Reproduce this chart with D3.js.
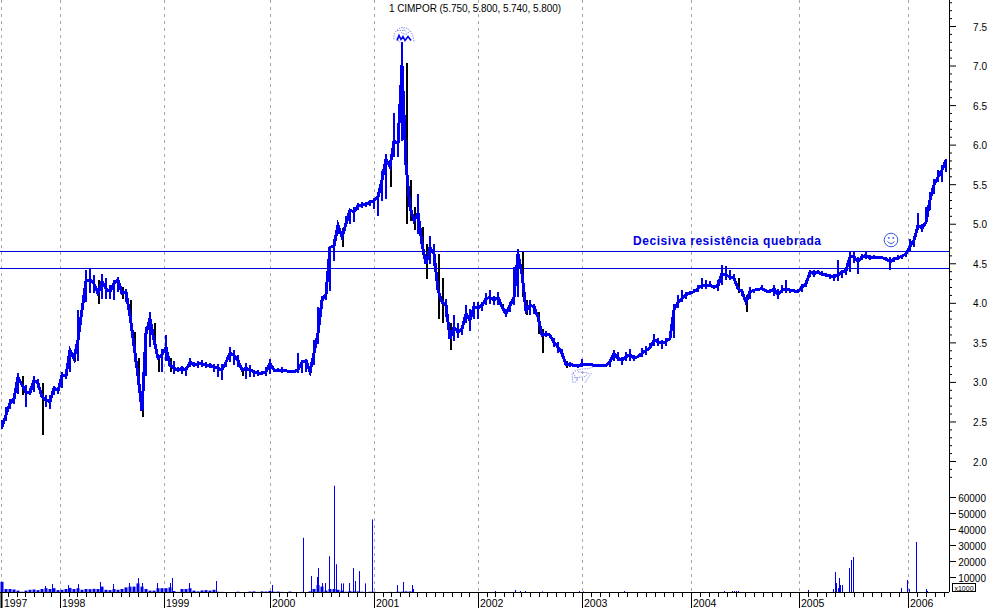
<!DOCTYPE html>
<html><head><meta charset="utf-8">
<script src="https://cdnjs.cloudflare.com/ajax/libs/d3/7.8.5/d3.min.js"></script>
<style>html,body{margin:0;padding:0;background:#fff}svg{display:block}text{font-family:"Liberation Sans",Arial,sans-serif}</style>
</head><body><div id="chart"></div>
<script>
const title = "1 CIMPOR (5.750, 5.800, 5.740, 5.800)";
const note = "Decisiva resistência quebrada";
const years = [1997,1998,1999,2000,2001,2002,2003,2004,2005,2006];
const yearSessions = [0,14.5,40.5,67,93,119,145,172.25,199.25,226.5];
const priceMajor = [2,2.5,3,3.5,4,4.5,5,5.5,6,6.5,7,7.5];
const volumeTicks = [10000,20000,30000,40000,50000,60000];
const resistance = [4.65,4.435];

const closes = [
2.43,2.58,2.73,2.79,3.06,2.96,2.87,2.86,3.02,2.98,
2.81,2.77,2.75,2.92,2.89,3.08,3.08,3.40,3.30,3.53,
3.91,4.27,4.29,4.24,4.12,4.27,4.18,4.14,4.24,4.29,
4.12,4.14,3.84,3.46,3.08,2.64,3.61,3.80,3.53,3.30,
3.34,3.44,3.21,3.17,3.15,3.17,3.15,3.25,3.21,3.23,
3.23,3.21,3.21,3.19,3.17,3.15,3.25,3.36,3.34,3.27,
3.15,3.17,3.15,3.13,3.11,3.11,3.13,3.23,3.15,3.15,
3.15,3.14,3.13,3.13,3.15,3.25,3.27,3.13,3.36,3.62,
4.03,4.11,4.70,4.72,4.98,4.83,5.00,5.17,5.15,5.23,
5.24,5.25,5.27,5.29,5.34,5.55,5.82,5.72,6.04,6.02,
7.00,5.75,5.21,5.04,5.13,4.75,4.49,4.70,4.62,4.16,
4.01,3.97,3.55,3.69,3.63,3.67,3.86,3.78,3.95,3.93,
3.97,4.05,4.07,4.03,4.07,3.95,3.86,3.97,4.07,4.62,
4.37,3.90,3.97,3.95,3.82,3.59,3.61,3.59,3.50,3.44,
3.36,3.22,3.22,3.21,3.20,3.22,3.22,3.22,3.21,3.21,
3.21,3.21,3.25,3.36,3.30,3.27,3.32,3.34,3.30,3.32,
3.36,3.40,3.43,3.53,3.51,3.49,3.51,3.55,3.91,4.01,
4.05,4.10,4.13,4.14,4.18,4.22,4.21,4.22,4.20,4.22,
4.37,4.35,4.33,4.31,4.18,4.14,4.01,4.14,4.16,4.17,
4.18,4.15,4.14,4.18,4.10,4.16,4.18,4.16,4.15,4.14,
4.20,4.24,4.39,4.37,4.39,4.36,4.35,4.34,4.33,4.35,
4.39,4.41,4.58,4.58,4.52,4.58,4.60,4.57,4.58,4.57,
4.57,4.56,4.52,4.55,4.57,4.59,4.62,4.71,4.79,4.98,
4.94,5.02,5.30,5.49,5.59,5.68,5.80];
const lows = [
2.40,2.50,2.66,2.72,2.85,2.83,2.68,2.83,2.87,2.92,
2.33,2.68,2.66,2.83,2.85,2.92,3.04,3.13,3.25,3.27,
3.84,4.01,4.12,4.12,3.99,4.05,4.05,4.05,4.03,4.14,
4.05,4.01,3.78,3.25,3.00,2.56,3.08,3.44,3.42,3.13,
3.13,3.27,3.13,3.10,3.13,3.10,3.08,3.19,3.19,3.18,
3.19,3.17,3.18,3.13,3.06,3.02,3.19,3.25,3.21,3.19,
3.08,3.04,3.06,3.06,3.08,3.09,3.08,3.10,3.13,3.13,
3.11,3.12,3.11,3.11,3.11,3.11,3.13,3.11,3.21,3.48,
3.95,4.03,4.15,4.53,4.87,4.70,4.96,5.00,5.02,5.17,
5.20,5.21,5.23,5.19,5.10,5.29,5.31,5.46,5.84,5.85,
6.05,5.00,5.04,4.92,4.87,4.60,4.30,4.49,4.47,3.80,
3.74,3.82,3.40,3.52,3.55,3.59,3.74,3.65,3.80,3.80,
3.90,3.97,3.99,3.97,3.97,3.90,3.82,3.88,3.97,4.07,
4.07,3.84,3.84,3.86,3.61,3.36,3.57,3.55,3.44,3.36,
3.31,3.17,3.19,3.19,3.17,3.19,3.20,3.20,3.20,3.20,
3.20,3.20,3.19,3.27,3.27,3.21,3.27,3.27,3.27,3.30,
3.32,3.34,3.41,3.46,3.46,3.42,3.46,3.53,3.55,3.93,
4.01,4.05,4.10,4.12,4.14,4.18,4.18,4.20,4.18,4.15,
4.22,4.29,4.29,4.29,4.12,4.08,3.89,4.05,4.12,4.15,
4.16,4.14,4.12,4.08,4.05,4.12,4.12,4.13,4.14,4.12,
4.14,4.20,4.33,4.33,4.36,4.34,4.33,4.30,4.27,4.27,
4.32,4.35,4.39,4.50,4.37,4.54,4.56,4.54,4.55,4.55,
4.55,4.53,4.41,4.52,4.54,4.56,4.58,4.65,4.71,4.92,
4.90,5.00,5.17,5.38,5.53,5.53,5.66];
const highs = [
2.52,2.68,2.79,2.85,3.11,3.08,2.96,2.92,3.08,3.04,
2.98,2.83,2.83,2.95,2.94,3.13,3.10,3.43,3.40,3.91,
3.97,4.41,4.43,4.35,4.29,4.36,4.31,4.22,4.29,4.33,
4.20,4.18,4.03,3.63,3.30,2.81,3.70,3.89,3.74,3.34,
3.42,3.59,3.30,3.27,3.19,3.20,3.19,3.30,3.25,3.26,
3.28,3.25,3.24,3.23,3.23,3.23,3.27,3.44,3.40,3.34,
3.17,3.24,3.21,3.15,3.15,3.14,3.19,3.29,3.17,3.17,
3.19,3.16,3.15,3.15,3.36,3.28,3.29,3.17,3.53,3.95,
4.09,4.14,4.72,4.81,5.02,4.94,5.10,5.19,5.21,5.26,
5.27,5.28,5.30,5.32,5.38,5.67,5.88,5.82,6.40,6.07,
7.30,7.03,5.55,5.21,5.38,4.96,4.75,4.85,4.75,4.62,
4.32,4.05,3.74,3.84,3.74,3.71,3.97,3.92,4.01,4.01,
4.01,4.12,4.16,4.09,4.14,3.99,3.92,4.01,4.45,4.68,
4.64,4.03,4.03,3.99,3.88,3.67,3.65,3.61,3.55,3.50,
3.42,3.27,3.25,3.23,3.21,3.29,3.24,3.24,3.23,3.23,
3.23,3.23,3.29,3.40,3.38,3.32,3.38,3.41,3.34,3.34,
3.43,3.46,3.49,3.61,3.55,3.53,3.55,3.58,3.99,4.10,
4.16,4.14,4.15,4.17,4.22,4.31,4.29,4.27,4.22,4.29,
4.48,4.46,4.41,4.37,4.31,4.18,4.10,4.20,4.18,4.18,
4.22,4.18,4.18,4.22,4.18,4.22,4.29,4.18,4.17,4.17,
4.24,4.29,4.41,4.41,4.42,4.40,4.38,4.37,4.37,4.54,
4.42,4.45,4.64,4.66,4.58,4.62,4.64,4.60,4.60,4.59,
4.59,4.58,4.58,4.58,4.60,4.61,4.66,4.81,4.84,5.13,
5.00,5.21,5.40,5.57,5.68,5.74,5.82];

const volumes = [
7000,2500,2500,2200,1500,800,1500,2000,2200,1800,
2500,3000,2500,3000,1800,2000,2500,3200,2500,3000,
2000,2500,2400,2600,2500,4000,2000,1800,2500,2000,
2500,3500,4000,4000,6000,4000,2500,1500,1500,3000,
3000,3000,3500,1200,700,2500,2500,3000,1500,1000,
1600,1800,1500,2000,800,700,500,300,600,800,
300,500,900,1000,700,1000,900,1300,800,900,
700,600,900,500,600,700,600,1000,2500,5000,
4000,1500,2500,2500,2000,1500,800,1200,1000,1000,
800,500,800,800,300,300,500,700,600,800,
800,1000,1000,600,300,400,300,300,300,200];
const spikeSessions = [10.75,12.5,16.5,19,24.5,27.75,31.75,33.75,34,35,38.75,42,42.5,46.75,53.5,67.5,
75.25,77.25,78.75,79,80,80.75,81.75,83,83.5,84.75,85.25,86.75,87.75,88.25,89.25,90.75,92.5,98.75,100.25,102.5,102.75,
123.25,128.25,129.5,130.75,135,144.25,145.25,155.5,180.5,182.5,183,183.5,184,201.5,
207.75,208.25,208.5,209,209.25,209.5,210,211.75,212.25,212.75,224.75,226.25,226.75,228.5,229,231,231.25];
const spikeVolumes = [4400,5600,5000,5600,6900,5600,6250,4400,9400,6250,6250,6250,9400,6250,7500,5000,
34500,10600,10000,15600,6250,6250,23000,67000,18000,6000,6000,6250,15600,7500,13700,6000,46000,5000,6900,5000,2500,
1250,1900,1250,1250,1000,1250,1000,1250,1250,1250,1250,1250,1250,1900,
2500,13100,6250,3100,9400,5000,5000,15600,20600,22500,3100,8100,2500,31900,600,2500,1250];

const W = 990, H = 608, axisX = 949, baseY = 592;
const n = closes.length;
const x = d3.scaleLinear().domain([0, n - 1]).range([2, 946]);
const y = d3.scaleLinear().domain([2, 7.5]).range([461, 26]);
const v = d3.scaleLinear().domain([0, 60000]).range([593, 497]);
const pts = d3.range(n);
const blue = "#0000f0";
const isDrop = i => i > 0 && closes[i - 1] - closes[i] >= 0.1;

const svg = d3.select("#chart").append("svg").attr("width", W).attr("height", H);
svg.append("rect").attr("width", W).attr("height", H).attr("fill", "#fff");

// year grid
svg.append("g").selectAll("line").data(yearSessions).join("line")
  .attr("x1", d => Math.round(x(d)) + 0.5 - (d ? 0 : 1)).attr("x2", d => Math.round(x(d)) + 0.5 - (d ? 0 : 1)).attr("y1", 0).attr("y2", baseY)
  .attr("stroke", "#a8a8a8").attr("stroke-dasharray", "3,4");

// resistance
svg.append("g").selectAll("line").data(resistance).join("line")
  .attr("x1", 0).attr("x2", axisX).attr("y1", d => y(d)).attr("y2", d => y(d))
  .attr("stroke", "#0000d8").attr("stroke-width", 1).attr("shape-rendering", "crispEdges");

// volume
svg.append("g").selectAll("rect").data(volumes).join("rect")
  .attr("x", (d, i) => x(i) - 1.5).attr("width", 3)
  .attr("y", d => v(d)).attr("height", d => v(0) - v(d)).attr("fill", blue);
svg.append("g").selectAll("rect").data(spikeVolumes).join("rect")
  .attr("x", (d, i) => Math.round(x(spikeSessions[i]))).attr("width", 1)
  .attr("y", d => v(d)).attr("height", d => v(0) - v(d)).attr("fill", blue);

// high-low bars: black falling sessions first, blue over them
svg.append("g").selectAll("line").data(pts.filter(isDrop)).join("line")
  .attr("x1", i => x(i) + 1).attr("x2", i => x(i) + 1)
  .attr("y1", i => y(lows[i])).attr("y2", i => y(highs[i]))
  .attr("stroke", "#000").attr("stroke-width", 2).attr("shape-rendering", "crispEdges");
svg.append("g").selectAll("line").data(pts.filter(i => !isDrop(i))).join("line")
  .attr("x1", i => x(i)).attr("x2", i => x(i))
  .attr("y1", i => y(lows[i])).attr("y2", i => y(highs[i]))
  .attr("stroke", blue).attr("stroke-width", 2.5).attr("shape-rendering", "crispEdges");
// close line
svg.append("path").datum(pts)
  .attr("d", d3.line().x(i => x(i)).y(i => y(closes[i])))
  .attr("fill", "none").attr("stroke", blue).attr("stroke-width", 3).attr("shape-rendering", "crispEdges");

// clip-art smudges near the extremes
function smudge(session, price, d, color, w, dash) {
  svg.append("path").attr("transform", `translate(${x(session)},${y(price)})`)
    .attr("d", d).attr("fill", "none").attr("stroke", color).attr("stroke-width", w)
    .attr("stroke-dasharray", dash);
}
smudge(100.25, 7.38, "M-9,4 C-10,-3 -5,-8 0,-8 C6,-8 10,-3 11,6 M-7,2 L-3,7 M-2,-3 L3,-1 L7,-4 M-6,-5 L2,-5 M0,-7 L4,-3", "#8a94ee", 1, "1.5,1");
smudge(100.25, 7.38, "M-6,5 L-4,0 L-2,4 L0,1 L2,5 L5,1 L8,5", blue, 1.6, null);
smudge(145, 3.09, "M-9,8 L-10,0 C-8,-6 2,-6 6,-6 L11,-8 M-8,3 L3,2 L8,-3 M-7,8 L-4,3 M3,8 L6,3 L10,-2 M-4,-3 L5,-2 M-9,-2 L-4,6", "#8a94ee", 1, "1.5,1");

// axes
svg.append("line").attr("x1", axisX).attr("x2", axisX).attr("y1", 0).attr("y2", baseY)
  .attr("stroke", "#000").attr("shape-rendering", "crispEdges");
svg.append("line").attr("x1", 0).attr("x2", axisX).attr("y1", baseY).attr("y2", baseY)
  .attr("stroke", "#000").attr("shape-rendering", "crispEdges");

const minorTicks = d3.range(18, 79).map(d => d / 10).filter(d => !priceMajor.includes(d));
const axMinor = d3.axisRight(y).tickValues(minorTicks).tickSize(3).tickFormat("");
const gMinor = svg.append("g").attr("transform", `translate(${axisX},0)`).call(axMinor);
gMinor.select(".domain").remove();
const axMajor = d3.axisRight(y).tickValues(priceMajor).tickSize(7).tickFormat(d3.format(".1f"));
const gMajor = svg.append("g").attr("transform", `translate(${axisX},0)`).call(axMajor);
gMajor.select(".domain").remove();
gMajor.selectAll("text").attr("x", 38).attr("dy", "0.4em").attr("text-anchor", "end").attr("font-size", 10).attr("font-family", '"Liberation Sans",Arial,sans-serif');
const axVol = d3.axisRight(v).tickValues(volumeTicks).tickSize(7).tickFormat(d3.format("d"));
const gVol = svg.append("g").attr("transform", `translate(${axisX},0)`).call(axVol);
gVol.select(".domain").remove();
gVol.selectAll("text").attr("x", 37).attr("dy", "0.4em").attr("text-anchor", "end").attr("font-size", 10).attr("font-family", '"Liberation Sans",Arial,sans-serif');

// month ticks
const monthTicks = [];
yearSessions.forEach((s, i) => {
  const step = ((yearSessions[i + 1] ?? s + 27) - s) / 12;
  if (i === 0) return;
  for (let m = 1; m < 12; m++) monthTicks.push(s + m * step);
  if (i === 1) for (let m = 1; m < 12; m++) { const t = s - m * step; if (t > 0) monthTicks.push(t); }
});
svg.append("g").selectAll("line").data(monthTicks.filter(d => x(d) < axisX)).join("line")
  .attr("x1", d => Math.round(x(d)) + 0.5).attr("x2", d => Math.round(x(d)) + 0.5).attr("y1", baseY).attr("y2", baseY + 5)
  .attr("stroke", "#000");
svg.append("g").selectAll("line").data(yearSessions).join("line")
  .attr("x1", d => Math.round(x(d)) + 0.5 - (d ? 0 : 1)).attr("x2", d => Math.round(x(d)) + 0.5 - (d ? 0 : 1)).attr("y1", baseY).attr("y2", H)
  .attr("stroke", "#000").attr("stroke-width", (d, i) => i ? 1 : 2);
svg.append("g").selectAll("text").data(years).join("text")
  .attr("x", (d, i) => Math.round(x(yearSessions[i])) + 2).attr("y", 607)
  .attr("font-size", 10.5).attr("fill", "#000").text(d => d);

// x1000 box
svg.append("rect").attr("x", 952.5).attr("y", 583.5).attr("width", 23).attr("height", 8)
  .attr("fill", "#fff").attr("stroke", "#000");
svg.append("text").attr("x", 964).attr("y", 590.5).attr("text-anchor", "middle")
  .attr("font-size", 7).text("x1000");

// title, note, smiley
svg.append("text").attr("x", 475).attr("y", 12).attr("text-anchor", "middle")
  .attr("font-size", 10).attr("textLength", 172).attr("fill", "#000").text(title);
svg.append("text").attr("x", 633).attr("y", 245)
  .attr("font-size", 12).attr("font-weight", "bold").attr("fill", "#0000e0")
  .attr("textLength", 188).text(note);
const smile = svg.append("g").attr("transform", "translate(891,240)")
  .attr("fill", "none").attr("stroke", "#3a5ae0");
smile.append("circle").attr("r", 6.8);
smile.append("path").attr("d", "M-3.5,1.5 Q0,5.5 3.5,1.5");
smile.append("circle").attr("cx", -2.2).attr("cy", -2).attr("r", 0.6);
smile.append("circle").attr("cx", 2.2).attr("cy", -2).attr("r", 0.6);
</script></body></html>
